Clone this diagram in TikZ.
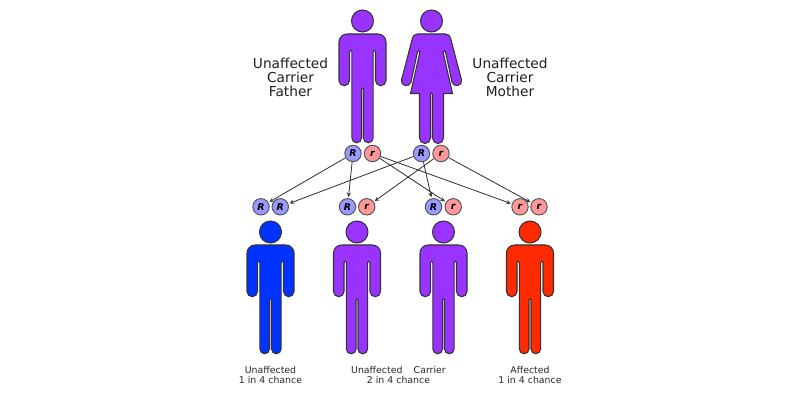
\documentclass[tikz,border=0pt]{standalone}
\usepackage{fontspec}
\setmainfont{DejaVu Sans}
\definecolor{carrier}{HTML}{9933FF}
\definecolor{healthy}{HTML}{0033FF}
\definecolor{affected}{HTML}{FF2A00}
\definecolor{domallele}{HTML}{9999FF}
\definecolor{recallele}{HTML}{FF9999}
\definecolor{outline}{HTML}{333333}
\tikzset{
  allele/.style={circle,draw=outline!85,line width=0.8pt,minimum size=16.5*0.85pt,inner sep=0pt,font=\fontsize{8}{8}\selectfont\bfseries\itshape},
  domin/.style={allele,fill=domallele},
  reces/.style={allele,fill=recallele},
  inherit/.style={->,>=stealth,draw=outline,line width=0.7pt,shorten >=1pt},
  figure/.style={draw=outline,line width=0.9pt},
  biglabel/.style={align=center,text=black!88,font=\fontsize{11.7}{12}\selectfont},
  smalllabel/.style={align=center,text=black!85,font=\fontsize{8}{8.5}\selectfont},
  man/.pic={
    \path[pic actions] (0,-13) circle (11);
    \path[pic actions] (-15.5,0) -- (15.5,0) arc (-90:0:8) -- (23.5,46.5) arc (0:180:5.25)
      -- (13,17.5) arc (0:-180:1.2) -- (10.6,104) arc (0:180:4.8) -- (1,55) arc (0:-180:1)
      -- (-1,104) arc (0:180:4.8) -- (-10.6,17.5) arc (0:-180:1.2) -- (-13,46.5) arc (0:180:5.25)
      -- (-23.5,8) arc (180:270:8) -- cycle;
  },
  woman/.pic={
    \path[pic actions] (0,-13) circle (11);
    \path[pic actions] (-14,0) -- (14,0) .. controls (17,0) and (18.5,2) .. (19,4)
      -- (30,46) .. controls (31.5,52) and (22,54) .. (20.5,48)
      -- (14,18) arc (0:-180:1.2) -- (21,59.5) -- (12,59.5) -- (12,104) arc (0:180:5.5)
      -- (1,60) arc (0:-180:1) -- (-1,104) arc (0:180:5.5) -- (-12,59.5) -- (-21,59.5)
      -- (-11.6,18) arc (0:-180:1.2) -- (-20.5,48) .. controls (-22,54) and (-31.5,52) .. (-30,46)
      -- (-19,4) .. controls (-18.5,2) and (-17,0) .. (-14,0) -- cycle;
  }
}
\begin{document}
\begin{tikzpicture}[x=0.03cm,y=-0.03cm]
\useasboundingbox (0,0) rectangle (800,400);

% parents
\pic[figure,fill=carrier] at (362.5,34) {man};
\pic[figure,fill=carrier] at (431.5,34) {woman};
\node[biglabel] (fatherlabel) at (290.5,77) {Unaffected\\Carrier\\Father};
\node[biglabel] (motherlabel) at (510,77) {Unaffected\\Carrier\\Mother};

% children
\pic[figure,fill=healthy] at (270.5,245) {man};
\pic[figure,fill=carrier] at (357,245) {man};
\pic[figure,fill=carrier] at (443.5,245) {man};
\pic[figure,fill=affected] at (530,245) {man};
\node[smalllabel] (lab1) at (270.5,375) {Unaffected\\1 in 4 chance};
\node[smalllabel] (lab2) at (398.5,375) {Unaffected\hspace{1.2em}Carrier\\2 in 4 chance};
\node[smalllabel] (lab3) at (530,375) {Affected\\1 in 4 chance};

% alleles
\node[domin] (fatherR) at (353,153.5) {R};
\node[reces] (fatherr) at (372.5,153.5) {r};
\node[domin] (motherR) at (421.5,153.5) {R};
\node[reces] (motherr) at (441,153.5) {r};
\node[domin] (a1) at (261,206.8) {R};
\node[domin] (a2) at (280.3,206.8) {R};
\node[domin] (b1) at (347.5,206.8) {R};
\node[reces] (b2) at (366.7,206.8) {r};
\node[domin] (c1) at (433.5,206.8) {R};
\node[reces] (c2) at (453.2,206.8) {r};
\node[reces] (d1) at (520,206.8) {r};
\node[reces] (d2) at (539,206.8) {r};

\draw[inherit] (fatherR)--(a1);
\draw[inherit] (fatherR)--(b1);
\draw[inherit] (fatherr)--(c2);
\draw[inherit] (fatherr)--(d1);
\draw[inherit] (motherR)--(a2);
\draw[inherit] (motherR)--(c1);
\draw[inherit] (motherr)--(b2);
\draw[inherit] (motherr)--(d2);
\end{tikzpicture}
\end{document}
